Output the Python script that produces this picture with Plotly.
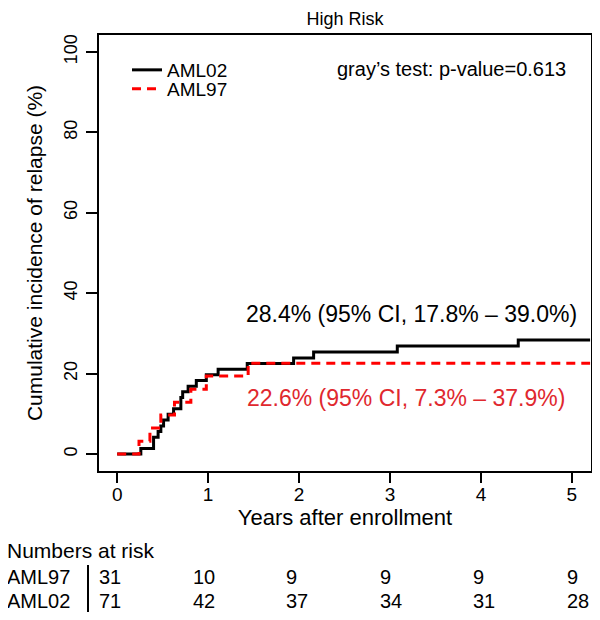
import plotly.graph_objects as go

# Cumulative incidence of relapse (%), step functions
aml02_years = [0, 0.26, 0.40, 0.45, 0.48, 0.51, 0.56, 0.62, 0.70, 0.72, 0.78, 0.87,
               0.98, 1.11, 1.43, 1.94, 2.16, 3.08, 4.41, 5.2]
aml02_cif = [0, 1.4, 4.2, 5.6, 7.0, 8.5, 9.9, 11.3, 14.1, 15.5, 16.9, 18.3,
             19.7, 21.1, 22.5, 23.9, 25.4, 26.9, 28.4, 28.4]

aml97_years = [0, 0.24, 0.36, 0.48, 0.63, 0.81, 0.98, 1.44, 5.2]
aml97_cif = [0, 3.2, 6.5, 9.7, 12.9, 16.1, 19.4, 22.6, 22.6]

risk_times = [0, 1, 2, 3, 4, 5]
risk_aml97 = [31, 10, 9, 9, 9, 9]
risk_aml02 = [71, 42, 37, 34, 31, 28]

FONT = "Liberation Sans, Arial, Helvetica, sans-serif"
RED = "#ff0000"
RED_TXT = "#e0282e"

# the page body adds an 8px margin, so screen px = figure px + 8
OFF = 8
# plot area in screen pixels
L, R, T, B = 99, 591, 35, 471


def px_x(p):
    return (p - L) / (R - L)


def px_y(p):
    return (B - p) / (B - T)


fig = go.Figure()

fig.add_trace(go.Scatter(
    x=aml02_years, y=aml02_cif, mode="lines", line_shape="hv",
    line=dict(color="black", width=3), name="AML02", legend="legend"
))
fig.add_trace(go.Scatter(
    x=aml97_years, y=aml97_cif, mode="lines", line_shape="hv",
    line=dict(color=RED, width=3, dash="9px,6px"), name="AML97", legend="legend2"
))

anns = []
anns.append(dict(x=px_x(568), y=px_y(69), xref="paper", yref="paper",
                 text="gray\u2019s test: p-value=0.613", showarrow=False,
                 xanchor="right", yanchor="middle", font=dict(size=20, color="black")))
anns.append(dict(x=px_x(579), y=px_y(314), xref="paper", yref="paper",
                 text="28.4% (95% CI, 17.8% \u2013 39.0%)", showarrow=False,
                 xanchor="right", yanchor="middle", font=dict(size=23, color="black")))
anns.append(dict(x=px_x(567), y=px_y(398), xref="paper", yref="paper",
                 text="22.6% (95% CI, 7.3% \u2013 37.9%)", showarrow=False,
                 xanchor="right", yanchor="middle", font=dict(size=23, color=RED_TXT)))

# numbers at risk table
anns.append(dict(x=px_x(5), y=px_y(550), xref="paper", yref="paper",
                 text="Numbers at risk", showarrow=False,
                 xanchor="left", yanchor="middle", font=dict(size=21, color="black")))
for label, counts, row_y in [("AML97", risk_aml97, 577), ("AML02", risk_aml02, 601)]:
    anns.append(dict(x=px_x(5), y=px_y(row_y), xref="paper", yref="paper",
                     text=label, showarrow=False,
                     xanchor="left", yanchor="middle", font=dict(size=20, color="black")))
    for t, n in zip(risk_times, counts):
        anns.append(dict(x=px_x(97 + t * 93.6), y=px_y(row_y), xref="paper", yref="paper",
                         text=str(n), showarrow=False,
                         xanchor="left", yanchor="middle", font=dict(size=20, color="black")))

fig.add_shape(type="line", xref="paper", yref="paper",
              x0=px_x(88), x1=px_x(88), y0=px_y(565), y1=px_y(612),
              line=dict(color="black", width=2))

legend_style = dict(xanchor="left", yanchor="middle", bgcolor="rgba(0,0,0,0)",
                    font=dict(size=19), itemwidth=30, borderwidth=0)

fig.update_layout(
    width=600, height=620,
    margin=dict(l=L - OFF, r=600 - (R - OFF), t=T - OFF, b=620 - (B - OFF), autoexpand=False),
    paper_bgcolor="white", plot_bgcolor="white",
    font=dict(family=FONT, size=18, color="black"),
    title=dict(text="High Risk", x=px_x(345), xref="paper", y=1 - 11 / 620, yref="container",
               xanchor="center", yanchor="middle", font=dict(size=18)),
    showlegend=True,
    legend=dict(x=px_x(127), y=px_y(70), **legend_style),
    legend2=dict(x=px_x(127), y=px_y(89), **legend_style),
    xaxis=dict(range=[-0.2, 5.21], tickvals=risk_times, showgrid=False, zeroline=False,
               showline=True, mirror=True, linecolor="black", linewidth=2,
               ticks="outside", ticklen=10, tickwidth=2, tickcolor="black",
               tickfont=dict(size=19), automargin=False, ticklabelstandoff=-5,
               title=dict(text="Years after enrollment", font=dict(size=22), standoff=4)),
    yaxis=dict(range=[-4.2, 104.2], tickvals=[0, 20, 40, 60, 80, 100], showgrid=False,
               zeroline=False, showline=True, mirror=True, linecolor="black", linewidth=2,
               ticks="outside", ticklen=11, tickwidth=2, tickcolor="black",
               tickangle=-90, tickfont=dict(size=18), automargin=False, ticklabelstandoff=2,
               title=dict(text="Cumulative incidence of relapse (%)", font=dict(size=21),
                          standoff=12)),
    annotations=anns,
)

fig.write_html("out.html")
